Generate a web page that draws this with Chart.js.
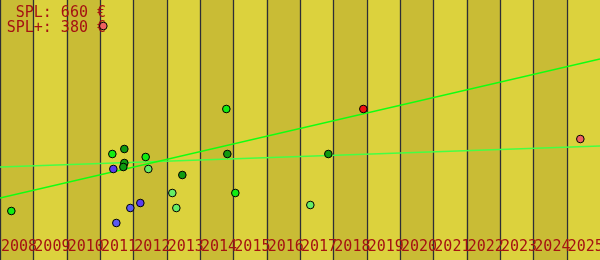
<!DOCTYPE html>
<html>
<head>
<meta charset="utf-8">
<script src="https://cdn.jsdelivr.net/npm/chart.js@4.4.1/dist/chart.umd.min.js"></script>
<style>
html,body{margin:0;padding:0;background:#dcd23d;}
#wrap{width:600px;height:260px;}
</style>
</head>
<body>
<div id="wrap"><canvas id="c" width="600" height="260"></canvas></div>
<script>
// ---- data ----
const tickYears = [2008,2009,2010,2011,2012,2013,2014,2015,2016,2017,2018,2019,2020,2021,2022,2023,2024,2025];
const pointX = [2008.34,2011.37,2011.73,2011.73,2011.70,2011.40,2012.37,2012.45,2011.91,2012.21,2011.49,2013.47,2013.17,2013.29,2014.79,2014.82,2015.06,2017.31,2017.85,2018.90,2025.41,2011.10];
const pointY = [49,106,111,97,93,91,103,91,52,57,37,85,67,52,151,106,67,55,106,151,121,234];
const pointKind = ['bright','bright','dark','dark','dark','purple','bright','light','blue','purple','blue','dark','light','light','bright','dark','bright','light','dark','red','salmon','salmon'];
const trendX = [2008, 2026];
const trendY = [62, 201];
const avgX = [2008, 2026];
const avgY = [93, 114];
const labelLines = ['SPL: 660 €', 'SPL+: 380 €'];

// ---- styles ----
const kindColors = {bright:'#11ee11', dark:'#109a10', light:'#66ee66', blue:'#5a5af0', purple:'#5a3cf0', red:'#ee1111', salmon:'#f06060'};

const pts = pointX.map((x,i)=>({x:x, y:pointY[i]}));
const trend = trendX.map((x,i)=>({x:x, y:trendY[i]}));
const avg = avgX.map((x,i)=>({x:x, y:avgY[i]}));

const bandsPlugin = {
  id:'bands',
  beforeDatasetsDraw(chart){
    const {ctx, chartArea, scales:{x}} = chart;
    ctx.save();
    ctx.fillStyle = '#dcd23d';
    ctx.fillRect(0,0,chart.width,chart.height);
    ctx.fillStyle = '#c9bc35';
    tickYears.forEach((yr,i)=>{
      if(i%2===0){
        const a = x.getPixelForValue(yr), b = x.getPixelForValue(yr+1);
        ctx.fillRect(a, chartArea.top, b-a, chartArea.bottom-chartArea.top);
      }
    });
    ctx.strokeStyle = '#2e2e36';
    ctx.lineWidth = 1.3;
    tickYears.forEach(yr=>{
      const px = Math.round(x.getPixelForValue(yr)) + 0.5;
      ctx.beginPath();
      ctx.moveTo(px, chartArea.top);
      ctx.lineTo(px, chartArea.bottom);
      ctx.stroke();
    });
    ctx.fillStyle = '#a51212';
    ctx.font = '15px "DejaVu Sans Mono"';
    ctx.textBaseline = 'alphabetic';
    ctx.textAlign = 'left';
    tickYears.forEach(yr=>{
      ctx.fillText(String(yr), x.getPixelForValue(yr)+1, 251);
    });
    ctx.textAlign = 'right';
    ctx.fillText(labelLines[0], 106, 17);
    ctx.fillText(labelLines[1], 106, 32);
    ctx.restore();
  }
};

new Chart(document.getElementById('c'), {
  type:'scatter',
  data:{
    datasets:[
      {data:pts, pointRadius:3.8, pointHoverRadius:3.8, borderWidth:1, pointBorderColor:'#000', pointBackgroundColor:pointKind.map(k=>kindColors[k]), order:0, clip:false},
      {data:trend, showLine:true, borderColor:'#11ff11', borderWidth:1.5, pointRadius:0, order:1},
      {data:avg, showLine:true, borderColor:'#44ff44', borderWidth:1.3, pointRadius:0, order:2}
    ]
  },
  plugins:[bandsPlugin],
  options:{
    responsive:false,
    animation:false,
    devicePixelRatio:1,
    layout:{padding:0, autoPadding:false},
    plugins:{legend:{display:false}, tooltip:{enabled:false}},
    events:[],
    scales:{
      x:{type:'linear', min:2008, max:2026, display:false},
      y:{type:'linear', min:0, max:260, display:false}
    }
  }
});
</script>
</body>
</html>
